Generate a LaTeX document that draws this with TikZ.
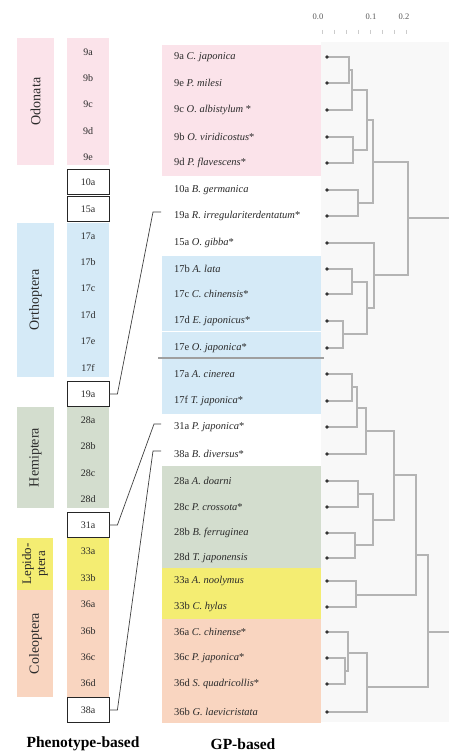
\documentclass[tikz,border=0pt]{standalone}
\usepackage{fontspec}
\setmainfont{Liberation Serif}
\definecolor{odo}{HTML}{FBE3EA}
\definecolor{ort}{HTML}{D5EAF7}
\definecolor{hem}{HTML}{D3DDCE}
\definecolor{lep}{HTML}{F4ED72}
\definecolor{col}{HTML}{F9D5C0}
\definecolor{dend}{HTML}{B4B4B4}
\definecolor{txt}{HTML}{2A2A2A}
\definecolor{panel}{HTML}{F8F8F8}
\begin{document}
\begin{tikzpicture}[x=1pt,y=-1pt,
  plabel/.style={font=\fontsize{10}{12}\selectfont, text=txt, inner sep=0pt},
  pbox/.style={draw=black!85, line width=0.8pt, fill=white, minimum width=42pt, minimum height=25.5pt, inner sep=0pt, font=\fontsize{10}{12}\selectfont, text=txt},
  glabel/.style={anchor=west, font=\fontsize{10.5}{12}\selectfont, text=txt, inner sep=0pt},
  order/.style={rotate=90, font=\fontsize{14}{15}\selectfont, text=txt, align=center},
  dl/.style={draw=dend, line width=1.1pt},
  conn/.style={draw=black!75, line width=0.7pt},
  heading/.style={font=\bfseries\fontsize{15.5}{17}\selectfont, text=black},
  axlab/.style={font=\fontsize{8.5}{10}\selectfont, text=gray!70!black}
]
\useasboundingbox (0,0) rectangle (449,754);
\fill[white] (0,0) rectangle (449,754);

% ---------- left: phenotype-based ----------
\fill[odo] (17,38) rectangle (54,165);  \fill[odo] (67,38) rectangle (109,165);
\fill[ort] (17,223) rectangle (54,377); \fill[ort] (67,223) rectangle (109,377);
\fill[hem] (17,407) rectangle (54,508); \fill[hem] (67,407) rectangle (109,508);
\fill[lep] (17,538) rectangle (53,590); \fill[lep] (67,538) rectangle (109,590);
\fill[col] (17,590) rectangle (53,697); \fill[col] (67,590) rectangle (109,697);

\node[order] (oodo) at (35.5,101.5) {Odonata};
\node[order] (oort) at (35.5,300) {Orthoptera};
\node[order] (ohem) at (35.5,457.5) {Hemiptera};
\node[order, font=\fontsize{13}{14}\selectfont] (olep) at (35,564) {Lepido-\\ptera};
\node[order] (ocol) at (35.5,643.5) {Coleoptera};

\foreach \t/\y in {9a/52,9b/78.3,9c/104.6,9d/130.9,9e/157.2,
  17a/236.1,17b/262.4,17c/288.7,17d/315,17e/341.3,17f/367.6,
  28a/420.2,28b/446.5,28c/472.8,28d/499.1,
  33a/551.7,33b/578,
  36a/604.3,36b/630.6,36c/656.9,36d/683.2}
  \node[plabel] (p\t) at (88,\y) {\t};
\node[pbox] (p10a) at (88,182) {10a};
\node[pbox] (p15a) at (88,209) {15a};
\node[pbox] (p19a) at (88,394) {19a};
\node[pbox] (p31a) at (88,525) {31a};
\node[pbox] (p38a) at (88,710) {38a};

% ---------- middle: GP-based ----------
\fill[odo] (162,45) rectangle (321,176);
\fill[ort] (162,256) rectangle (321,414);
\fill[hem] (162,466) rectangle (321,568);
\fill[lep] (162,568) rectangle (321,619);
\fill[col] (162,619) rectangle (321,723);
\draw[white, line width=0.8pt] (162,331) -- (321,331);

\node[glabel] (g1)  at (174,57)  {9a \textit{C. japonica}};
\node[glabel] (g2)  at (174,83)  {9e \textit{P. milesi}};
\node[glabel] (g3)  at (174,110) {9c \textit{O. albistylum} *};
\node[glabel] (g4)  at (174,137) {9b \textit{O. viridicostus}*};
\node[glabel] (g5)  at (174,163) {9d \textit{P. flavescens}*};
\node[glabel] (g6)  at (174,190) {10a \textit{B. germanica}};
\node[glabel] (g7)  at (174,216) {19a \textit{R. irregulariterdentatum}*};
\node[glabel] (g8)  at (174,243) {15a \textit{O. gibba}*};
\node[glabel] (g9)  at (174,269) {17b \textit{A. lata}};
\node[glabel] (g10) at (174,294) {17c \textit{C. chinensis}*};
\node[glabel] (g11) at (174,321) {17d \textit{E. japonicus}*};
\node[glabel] (g12) at (174,348) {17e \textit{O. japonica}*};
\node[glabel] (g13) at (174,374) {17a \textit{A. cinerea}};
\node[glabel] (g14) at (174,401) {17f \textit{T. japonica}*};
\node[glabel] (g15) at (174,427) {31a \textit{P. japonica}*};
\node[glabel] (g16) at (174,454) {38a \textit{B. diversus}*};
\node[glabel] (g17) at (174,481) {28a \textit{A. doarni}};
\node[glabel] (g18) at (174,507) {28c \textit{P. crossota}*};
\node[glabel] (g19) at (174,533) {28b \textit{B. ferruginea}};
\node[glabel] (g20) at (174,558) {28d \textit{T. japonensis}};
\node[glabel] (g21) at (174,581) {33a \textit{A. noolymus}};
\node[glabel] (g22) at (174,607) {33b \textit{C. hylas}};
\node[glabel] (g23) at (174,632) {36a \textit{C. chinense}*};
\node[glabel] (g24) at (174,658) {36c \textit{P. japonica}*};
\node[glabel] (g25) at (174,684) {36d \textit{S. quadricollis}*};
\node[glabel] (g26) at (174,712) {36b \textit{G. laevicristata}};

% ---------- dendrogram panel ----------
\fill[panel] (321,42) rectangle (449,722);
\draw[gray!75, line width=1.4pt] (158,358) -- (324,358);
\node[axlab] (ax0) at (318,17) {0.0};
\node[axlab] (ax1) at (371,17) {0.1};
\node[axlab] (ax2) at (404,17) {0.2};
\foreach \x in {322,334,346,358,370,382,394,406}
  \draw[gray!40, line width=0.5pt] (\x,30) -- (\x,34);

\foreach \i/\y in {1/57,2/83,3/110,4/137,5/163,6/190,7/216,8/243,9/269,10/294,
  11/321,12/348,13/374,14/401,15/427,16/454,17/481,18/507,19/533,20/558,
  21/581,22/607,23/632,24/658,25/684,26/712}
  \coordinate (L\i) at (327,\y);

\coordinate (n12) at (349,70);
\coordinate (n123) at (352,90);
\coordinate (n45) at (353,150);
\coordinate (nA) at (367,120);
\coordinate (n67) at (358,203);
\coordinate (nB) at (373,162);
\coordinate (n910) at (352,282);
\coordinate (n1112) at (343,334);
\coordinate (nC) at (367,308);
\coordinate (nD) at (374,275);
\coordinate (nTop) at (408,218);
\coordinate (eTop) at (449,218);
\coordinate (n1314) at (352,387);
\coordinate (nE) at (357,408);
\coordinate (nF) at (366,431);
\coordinate (n1718) at (358,494);
\coordinate (n1920) at (355,545);
\coordinate (nG) at (373,520);
\coordinate (nH) at (394,475);
\coordinate (n2122) at (356,595);
\coordinate (nI) at (416,555);
\coordinate (n2425) at (345,671);
\coordinate (nJ) at (348,653);
\coordinate (nK) at (367,687);
\coordinate (nL) at (428,632);
\coordinate (eL) at (449,632);

\draw[dl] (L1) -| (n12) |- (L2);
\draw[dl] (n12) -| (n123) |- (L3);
\draw[dl] (L4) -| (n45) |- (L5);
\draw[dl] (n123) -| (nA) |- (n45);
\draw[dl] (L6) -| (n67) |- (L7);
\draw[dl] (nA) -| (nB) |- (n67);
\draw[dl] (L9) -| (n910) |- (L10);
\draw[dl] (L11) -| (n1112) |- (L12);
\draw[dl] (n910) -| (nC) |- (n1112);
\draw[dl] (L8) -| (nD) |- (nC);
\draw[dl] (nB) -| (nTop) |- (nD);
\draw[dl] (nTop) -- (eTop);
\draw[dl] (L13) -| (n1314) |- (L14);
\draw[dl] (n1314) -| (nE) |- (L15);
\draw[dl] (nE) -| (nF) |- (L16);
\draw[dl] (L17) -| (n1718) |- (L18);
\draw[dl] (L19) -| (n1920) |- (L20);
\draw[dl] (n1718) -| (nG) |- (n1920);
\draw[dl] (nF) -| (nH) |- (nG);
\draw[dl] (L21) -| (n2122) |- (L22);
\draw[dl] (nH) -| (nI) |- (n2122);
\draw[dl] (L24) -| (n2425) |- (L25);
\draw[dl] (L23) -| (nJ) |- (n2425);
\draw[dl] (nJ) -| (nK) |- (L26);
\draw[dl] (nI) -| (nL) |- (nK);
\draw[dl] (nL) -- (eL);

\foreach \i in {1,...,26}
  \fill[black!80] (L\i) circle (1.8pt);

% ---------- connectors ----------
\coordinate (t19) at (153,212); \coordinate (e19) at (161,212);
\coordinate (t31) at (154,424); \coordinate (e31) at (161,424);
\coordinate (t38) at (153,451); \coordinate (e38) at (161,451);
\draw[conn] (p19a.east) -- ++(8,0) -- (t19) -- (e19);
\draw[conn] (p31a.east) -- ++(8,0) -- (t31) -- (e31);
\draw[conn] (p38a.east) -- ++(8,0) -- (t38) -- (e38);

% ---------- headings ----------
\node[heading] (hp) at (83,744) {Phenotype-based};
\node[heading] (hg) at (243,744) {GP-based};
\end{tikzpicture}
\end{document}
